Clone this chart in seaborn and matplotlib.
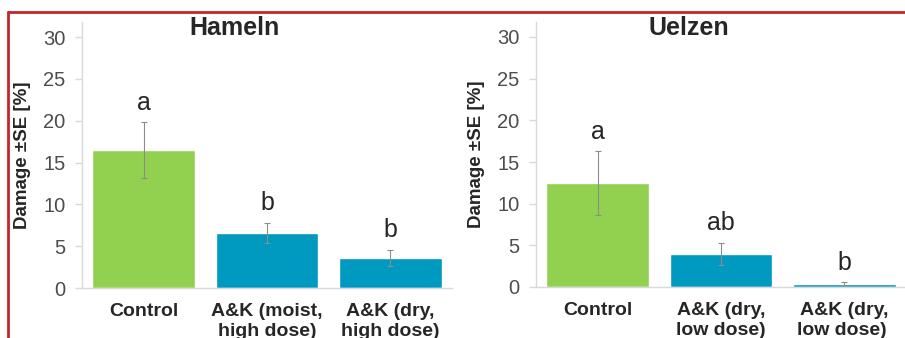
import pandas as pd
import matplotlib.pyplot as plt
from matplotlib.lines import Line2D
import seaborn as sns

# Datos
sitios = ["Hameln", "Uelzen"]
tratamientos_hameln = ["Control", "A&K (moist,\nhigh dose)", "A&K (dry,\nhigh dose)"]
tratamientos_uelzen = ["Control", "A&K (dry,\nlow dose)", "A&K (dry,\nlow dose) "]
dano_hameln = [16.5, 6.6, 3.6]
se_hameln = [3.3, 1.2, 1.0]
dano_uelzen = [12.5, 4.0, 0.4]
se_uelzen = [3.8, 1.3, 0.2]
letras_hameln = ["a", "b", "b"]
letras_uelzen = ["a", "ab", "b"]

verde = "#92d050"
azul = "#0099bf"
gris = "#d9d9d9"

sns.set_style("white")
plt.rcParams["font.family"] = ["Liberation Sans", "DejaVu Sans"]

fig = plt.figure(figsize=(9.05, 3.38), dpi=100)
W, H = 905, 338


def panel(ax, sitio, tratamientos, dano, se, letras):
    df = pd.DataFrame({"Tratamiento": tratamientos, "Dano": dano})
    sns.barplot(
        data=df, x="Tratamiento", y="Dano", hue="Tratamiento",
        palette=[verde, azul, azul], width=0.83, errorbar=None,
        legend=False, ax=ax, saturation=1,
    )
    ax.errorbar(range(3), dano, yerr=se, fmt="none", ecolor="#8c8c8c",
                elinewidth=0.8, capsize=2, capthick=0.8)
    for i, (v, e, l) in enumerate(zip(dano, se, letras)):
        ax.text(i, v + e + 1.5, l, ha="center", va="baseline", fontsize=18)
    ax.set_xlim(-0.5, 2.5)
    ax.set_ylim(0, 31.8)
    ax.set_yticks(range(0, 31, 5))
    ax.set_xlabel("")
    ax.set_ylabel("Damage \u00b1SE [%]", fontsize=13.5, fontweight="bold")
    ax.yaxis.set_label_coords(-0.138, 0.5)
    ax.set_xticks([-0.5, 0.5, 1.5, 2.5], minor=True)
    ax.tick_params(axis="x", which="minor", length=5, color=gris, width=1)
    ax.tick_params(axis="x", which="major", length=0, pad=11, labelsize=14)
    ax.tick_params(axis="y", length=5, color=gris, width=1, pad=7,
                   labelsize=14.5, labelcolor="#4d4d4d", left=True)
    for t in ax.get_xticklabels():
        t.set_fontweight("bold")
    sns.despine(ax=ax)
    for s in ["left", "bottom"]:
        ax.spines[s].set_color(gris)
        ax.spines[s].set_linewidth(1)
    ax.text(0.413, 0.977, sitio, transform=ax.transAxes, ha="center",
            va="center", fontsize=18, fontweight="bold")


ax1 = fig.add_axes([82 / W, 50 / H, 370 / W, 266 / H])
ax2 = fig.add_axes([536 / W, 51 / H, 370 / W, 265 / H])
panel(ax1, sitios[0], tratamientos_hameln, dano_hameln, se_hameln, letras_hameln)
panel(ax2, sitios[1], tratamientos_uelzen, dano_uelzen, se_uelzen, letras_uelzen)

# Marco rojo (arriba e izquierda)
fig.add_artist(Line2D([8 / W, 1], [1 - 12 / H, 1 - 12 / H], color="#c1272d", lw=2))
fig.add_artist(Line2D([8 / W, 8 / W], [0, 1 - 12 / H], color="#c1272d", lw=2))

fig.savefig("out.png", dpi=100)
